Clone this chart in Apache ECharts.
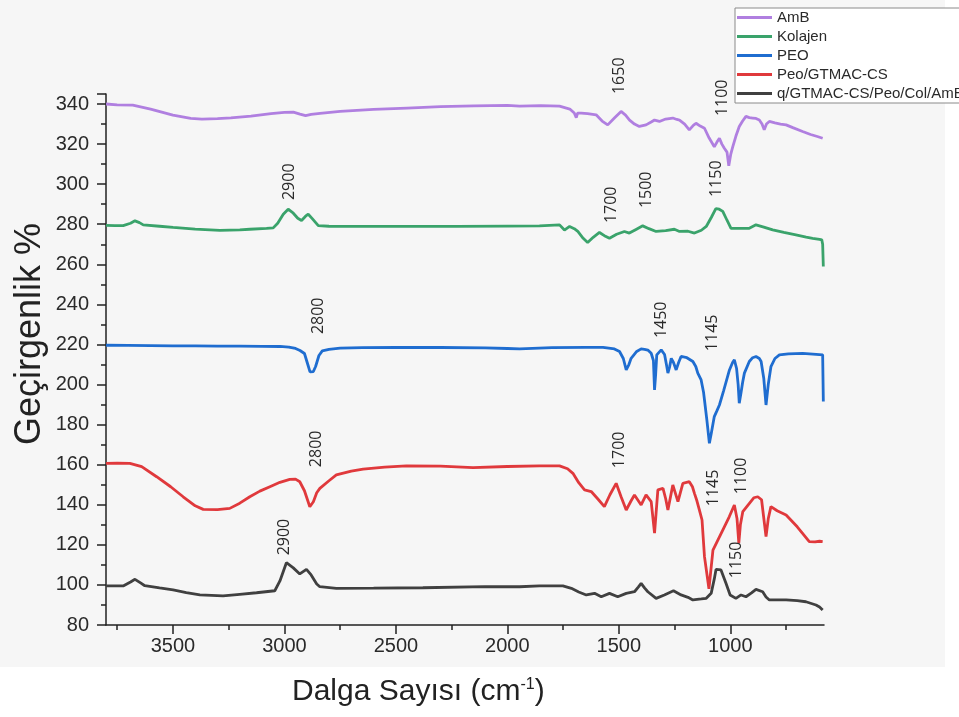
<!DOCTYPE html>
<html><head><meta charset="utf-8">
<script src="https://cdn.jsdelivr.net/npm/echarts@6/dist/echarts.min.js"></script>
<style>html,body{margin:0;padding:0;background:#fff}#c{width:959px;height:717px}</style>
</head><body><div id="c"></div>
<script>
const seriesNames = ['AmB','Kolajen','PEO','Peo/GTMAC-CS','q/GTMAC-CS/Peo/Col/AmB'];
const seriesColors = ['#b07fe0','#3aa36b','#1f6dd0','#e0393c','#404040'];
const xTicks = [1000,1500,2000,2500,3000,3500];
const xMinorTicks = [750,1250,1750,2250,2750,3250,3750];

const ambData = [[3800,340],[3750,339.6],[3680,339.4],[3600,337.5],[3500,334.5],[3420,332.8],[3370,332.5],[3300,332.7],[3240,333.1],[3150,334],[3060,335.2],[3000,335.8],[2960,336],[2930,335],[2905,334.2],[2880,334.8],[2840,335.3],[2750,336.3],[2600,337.3],[2450,338],[2300,338.7],[2150,339.1],[2000,339.3],[1945,338.9],[1850,339.2],[1766,338.9],[1720,337.5],[1700,335.5],[1691,333.2],[1685,335.5],[1669,335.5],[1640,335.2],[1602,334.6],[1575,331.5],[1550,329.6],[1520,333],[1490,336.3],[1470,334.5],[1452,332],[1430,330],[1408,328.8],[1378,329.6],[1355,331],[1340,332],[1318,331.3],[1290,332.5],[1258,333],[1240,332.3],[1228,332],[1205,330],[1184,327.1],[1165,329.5],[1154,330.4],[1135,329],[1116,327.9],[1095,323],[1072,318.7],[1060,321],[1049,322.9],[1038,320],[1027,317.9],[1015,316],[1007,309.2],[998,315],[989,318.7],[975,324],[960,328.8],[945,331.5],[930,333.8],[915,333.2],[900,333],[885,332.8],[870,332],[858,330],[848,327.1],[838,330],[825,331.3],[800,330.6],[775,330],[750,329.6],[720,328.2],[676,326.3],[640,324.8],[610,323.8],[586,322.9]];

const kolData = [[3800,279.4],[3760,279.3],[3723,279.3],[3690,280.5],[3670,281.7],[3650,280.8],[3633,279.7],[3560,279],[3499,278.4],[3400,277.6],[3289,276.9],[3200,277.2],[3155,277.5],[3080,277.9],[3050,278.2],[3030,280.5],[3005,285],[2983,287.5],[2960,285.5],[2940,283],[2923,281.9],[2905,284],[2893,285],[2875,282.8],[2848,279.3],[2800,279],[2676,278.9],[2500,278.9],[2228,278.9],[2000,279.1],[1856,279.2],[1766,279.7],[1744,277.1],[1721,278.9],[1700,277.8],[1684,276.4],[1660,273],[1640,270.9],[1615,273.5],[1587,275.9],[1565,274.3],[1542,273],[1510,275],[1475,276.4],[1453,275.6],[1425,277.3],[1393,279.2],[1365,277.8],[1333,276.4],[1290,276.8],[1251,277.5],[1228,276.4],[1190,276.5],[1161,275.6],[1130,277],[1108,278.9],[1085,283.5],[1065,287.8],[1050,287.5],[1034,286.4],[1015,282],[997,278],[960,277.9],[915,278],[885,279.7],[850,278.6],[810,277.2],[760,275.9],[706,274.7],[660,273.6],[631,273],[600,272.5],[590,272.2],[586,270],[583,258.9]];

const peoData = [[3800,219.6],[3700,219.5],[3600,219.4],[3500,219.3],[3400,219.3],[3300,219.2],[3200,219.2],[3100,219.1],[3020,219],[2980,218.7],[2950,218],[2930,217],[2910,215.5],[2895,210],[2885,206.3],[2870,206.5],[2860,209],[2845,214.5],[2830,216.8],[2800,217.6],[2750,218.2],[2650,218.4],[2500,218.5],[2300,218.5],[2100,218.3],[2000,218],[1945,217.8],[1800,218.4],[1650,218.6],[1571,218.6],[1520,217.8],[1497,216.5],[1480,213],[1467,207.3],[1455,210],[1445,213.1],[1420,216.5],[1400,217.8],[1385,217.6],[1370,217.2],[1355,215.6],[1345,212],[1340,197.3],[1335,205],[1330,214.8],[1310,217.3],[1295,215],[1285,209],[1280,205.7],[1272,209],[1265,213.1],[1255,211],[1243,207.3],[1232,211],[1221,214],[1195,213.4],[1168,211.5],[1155,209],[1146,205.7],[1131,202.3],[1120,196],[1116,192.3],[1105,182],[1094,170.7],[1085,176],[1072,184],[1060,187],[1049,189.8],[1030,197],[1015,203],[1004,207.3],[990,211],[982,212.3],[972,208],[965,200],[960,190.7],[952,196],[945,201],[937,205.7],[915,211.5],[900,213.4],[885,214],[870,213],[862,211.5],[850,203],[840,189.8],[830,200],[818,208.9],[800,213],[780,214.8],[740,215.3],[676,215.6],[630,215.2],[586,214.8],[583,191.5]];

const redData = [[3800,160.7],[3750,160.8],[3693,160.7],[3640,159],[3573,154],[3510,149],[3454,144],[3400,139.5],[3364,137.7],[3300,137.6],[3245,138.2],[3200,140.8],[3155,144],[3110,146.8],[3065,149],[3020,151.2],[2976,152.7],[2950,152.8],[2931,151.5],[2910,147],[2895,142],[2886,139],[2870,141.5],[2855,146],[2841,148.2],[2800,152],[2767,154.9],[2700,156.8],[2647,157.8],[2550,158.8],[2453,159.4],[2300,159.3],[2154,158.5],[2000,159.1],[1856,159.4],[1766,159.4],[1730,158],[1706,155.7],[1680,151],[1654,147.4],[1624,146.6],[1595,143],[1565,139.1],[1540,145],[1512,150.7],[1490,144],[1467,137.4],[1445,142],[1430,144.9],[1400,139.9],[1378,144.9],[1355,141.6],[1340,125.8],[1325,147.4],[1302,148.2],[1290,143],[1280,137.4],[1258,149.9],[1235,141.6],[1213,150.7],[1184,151.5],[1170,149],[1161,145.7],[1150,142],[1139,137.4],[1127,132.4],[1116,114.1],[1096,98.1],[1078,117.4],[1056,122.4],[1034,127.4],[1005,134],[982,139.9],[970,133],[962,120.8],[955,130],[944,136.6],[920,140],[895,143.5],[877,144],[860,142.5],[855,141.6],[840,124.1],[830,133],[818,139.1],[790,137],[750,134.9],[700,129],[646,121.6],[620,121.5],[600,121.8],[586,121.6]];

const blkData = [[3800,99.5],[3723,99.5],[3690,101.5],[3670,102.8],[3645,101],[3626,99.6],[3560,98.5],[3499,97.5],[3440,96.2],[3379,95],[3275,94.5],[3200,95.3],[3125,96.1],[3043,97.1],[3020,102],[2991,111.1],[2960,108.5],[2931,105.5],[2901,107.8],[2880,105],[2855,100.5],[2841,99.1],[2767,98.3],[2600,98.4],[2379,98.6],[2100,99.2],[1945,99.1],[1856,99.5],[1751,99.5],[1713,98.3],[1680,96.5],[1646,95],[1609,95.8],[1579,94.1],[1542,95.8],[1505,94.1],[1467,95.8],[1430,96.6],[1412,99],[1400,100.8],[1385,98.5],[1370,96.6],[1333,93.3],[1296,95],[1255,97.1],[1221,95],[1190,93.8],[1168,92.5],[1130,93],[1108,93.3],[1086,95.8],[1072,103],[1064,107.8],[1042,107.5],[1020,101],[1001,95],[975,93.3],[952,95],[930,94.1],[905,96],[885,97.8],[855,96.6],[840,94],[825,92.5],[750,92.5],[700,92.2],[661,91.6],[616,90],[600,89],[586,87.5]];

// peak annotations: text, wavenumber, value (label centre)
const annoText = ['1650','1100','2900','1700','1500','1150','2800','1450','1145','2800','1700','1145','1100','1150','2900'];
const annoWave = [1497,1036,2976,1533,1376,1063,2849,1309,1081,2855,1497,1076,951,973,2998];
const annoVal  = [354.1,343.1,301.2,289.7,297.2,302.7,234.3,232.3,225.8,167.9,167.4,148.4,154.4,112.5,123.9];

const allData = [ambData,kolData,peoData,redData,blkData];
const FONT = '"Liberation Sans", Arial, sans-serif';

const chart = echarts.init(document.getElementById('c'));
const option = {
  animation:false,
  backgroundColor:'#ffffff',
  grid:{left:106,right:135,top:94,bottom:92},
  legend:{
    orient:'vertical', left:735, top:8, z:10,
    data:seriesNames,
    icon:'rect', itemWidth:35, itemHeight:3, itemGap:4,
    backgroundColor:'#ffffff', borderColor:'#8a8a8a', borderWidth:1,
    padding:[2,4,2,2],
    textStyle:{fontFamily:FONT,fontSize:15,color:'#2a2a2a',lineHeight:15}
  },
  xAxis:[{
    type:'value', min:580, max:3800, inverse:true,
    axisLine:{show:true,lineStyle:{color:'#222',width:1.5}},
    axisTick:{show:true,length:9,customValues:xTicks,lineStyle:{color:'#222',width:1.5}},
    axisLabel:{customValues:xTicks,formatter:v=>String(v),fontFamily:FONT,fontSize:20,color:'#2a2a2a',margin:11},
    splitLine:{show:false}
  },{
    type:'value', min:580, max:3800, inverse:true, position:'bottom',
    axisLine:{show:false},
    axisTick:{show:true,length:5,customValues:xMinorTicks,lineStyle:{color:'#222',width:1.5}},
    axisLabel:{show:false},
    splitLine:{show:false}
  }],
  yAxis:{
    type:'value', min:80, max:345, interval:20,
    axisLine:{show:true,lineStyle:{color:'#222',width:1.5}},
    axisTick:{show:true,length:9,lineStyle:{color:'#222',width:1.5}},
    minorTick:{show:true,splitNumber:2,length:5,lineStyle:{color:'#222',width:1.5}},
    axisLabel:{fontFamily:FONT,fontSize:20,color:'#2a2a2a',margin:17,showMaxLabel:false},
    splitLine:{show:false}
  },
  series: seriesNames.map((n,i)=>({
    name:n, type:'line', xAxisIndex:0, data:allData[i], showSymbol:false,
    lineStyle:{width:2.8,color:seriesColors[i]}, itemStyle:{color:seriesColors[i]}
  }))
};
chart.setOption(option);

const graphics = [
  {type:'rect', z:-10, silent:true, shape:{x:0,y:0,width:945,height:667}, style:{fill:'#f6f6f6'}},
  {type:'text', x:30, y:334, rotation:Math.PI/2, z:5,
   style:{text:'Geçirgenlik %', font:'36px '+FONT, fill:'#222', align:'center', verticalAlign:'middle', textAlign:'center', textVerticalAlign:'middle'}},
  {type:'text', x:292, y:692, z:5,
   style:{text:'{a|Dalga Sayısı (cm}{s|-1}{a|)}', fill:'#222', align:'left', verticalAlign:'middle', textAlign:'left', textVerticalAlign:'middle',
     rich:{a:{fontFamily:FONT,fontSize:30,color:'#222'},s:{fontFamily:FONT,fontSize:16,color:'#222',verticalAlign:'top',padding:[0,0,14,0]}}}}
];
annoText.forEach((t,i)=>{
  const p = chart.convertToPixel({gridIndex:0},[annoWave[i],annoVal[i]]);
  graphics.push({type:'text', x:p[0], y:p[1], rotation:Math.PI/2, z:4,
    style:{text:t, font:'16px "Open Sans", sans-serif', fill:'#2a2a2a', align:'center', verticalAlign:'middle', textAlign:'center', textVerticalAlign:'middle'}});
});
chart.setOption({graphic:graphics});
</script></body></html>
